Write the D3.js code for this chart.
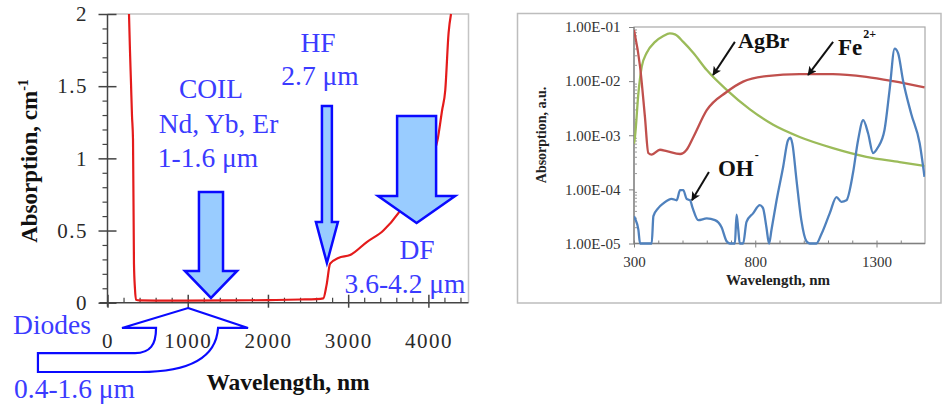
<!DOCTYPE html>
<html><head><meta charset="utf-8">
<script src="https://cdn.jsdelivr.net/npm/d3@7"></script>
<style>
body{margin:0;background:#fff}
svg{display:block}
text{font-family:"Liberation Serif","Times New Roman",serif}
</style>
</head><body>
<svg id="c" width="943" height="404"></svg>
<script>
// ---------- Left chart data ----------
const leftXTicks = [0, 1000, 2000, 3000, 4000];
const leftYTicks = [0, 0.5, 1, 1.5, 2];
const redWl  = [268, 280, 293, 305, 318, 330, 342, 355, 400, 600, 1000, 1500, 2000, 2400, 2600, 2690, 2730, 2775, 2878, 3024, 3232, 3439, 3626, 3800, 4000, 4115, 4170, 4210, 4252, 4282];
const redAbs = [2.0, 1.75, 1.52, 1.3, 1.13, 0.27, 0.1, 0.02, 0.016, 0.015, 0.015, 0.016, 0.018, 0.022, 0.025, 0.03, 0.12, 0.27, 0.31, 0.33, 0.42, 0.50, 0.62, 0.78, 0.97, 1.13, 1.33, 1.47, 1.87, 2.0];

// ---------- Right chart data ----------
const rightXTicks = [300, 800, 1300];
const rightYTicks = [1e-5, 1e-4, 1e-3, 1e-2, 1e-1];
const agbrWl  = [300, 304, 318, 332, 352, 387, 421, 448, 469, 503, 545, 600, 682, 778, 874, 983, 1120, 1258, 1395, 1498];
const agbrAbs = [7e-4, 9.3e-4, 5.9e-3, 0.0185, 0.033, 0.053, 0.068, 0.076, 0.073, 0.053, 0.033, 0.016, 0.0069, 0.003, 0.00156, 9.3e-4, 5.8e-4, 4.0e-4, 3.2e-4, 2.7e-4];
const feWl  = [300, 325, 345, 359, 373, 407, 435, 490, 517, 545, 600, 682, 750, 846, 983, 1120, 1258, 1368, 1498];
const feAbs = [0.088, 0.0185, 2.2e-3, 4.7e-4, 4.4e-4, 5.4e-4, 5.1e-4, 4.5e-4, 5.4e-4, 9.3e-4, 2.9e-3, 6.3e-3, 9.8e-3, 0.0124, 0.0135, 0.0135, 0.012, 0.010, 0.0077];
const ohWl  = [300, 304, 318, 325, 373, 380, 400, 421, 455, 476, 490, 503, 517, 531, 542, 565, 600, 634, 661, 682, 695, 716, 723, 730, 736, 750, 764, 791, 819, 832, 846, 857, 867, 888, 915, 935, 945, 953, 970, 990, 1011, 1025, 1052, 1073, 1107, 1135, 1155, 1176, 1203, 1224, 1245, 1265, 1286, 1306, 1333, 1354, 1375, 1389, 1409, 1443, 1478, 1498];
const ohAbs = [3.2e-5, 2.9e-5, 1.8e-5, 1e-5, 1e-5, 3.2e-5, 4.5e-5, 5.5e-5, 6.7e-5, 6.3e-5, 9.7e-5, 9.7e-5, 6.7e-5, 6.3e-5, 4.5e-5, 2.7e-5, 2.9e-5, 2.7e-5, 2.0e-5, 1.1e-5, 1e-5, 1e-5, 3.4e-5, 1.8e-5, 1e-5, 1e-5, 2.5e-5, 3.6e-5, 5.1e-5, 4.5e-5, 2e-5, 1e-5, 1.8e-5, 6.3e-5, 2.6e-4, 8.1e-4, 9e-4, 7e-4, 1.5e-4, 2.7e-5, 1.1e-5, 1e-5, 1e-5, 1.5e-5, 3.6e-5, 7.2e-5, 5.9e-5, 6.3e-5, 2e-4, 8.1e-4, 1.9e-3, 1.1e-3, 4.7e-4, 6e-4, 1.25e-3, 6.9e-3, 0.04, 0.033, 0.0105, 2.5e-3, 7.1e-4, 1.7e-4];

const svg = d3.select("#c");
svg.append("rect").attr("width", 943).attr("height", 404).attr("fill", "#fff");

// ================= LEFT CHART =================
const xL = d3.scaleLinear().domain([0, 4500]).range([107.5, 468.5]);
const yL = d3.scaleLinear().domain([0, 2]).range([302.7, 14]);
const L = svg.append("g");

L.append("defs").append("clipPath").attr("id", "clipL")
  .append("rect").attr("x", xL(0)).attr("y", yL(2) - 1)
  .attr("width", xL(4500) - xL(0)).attr("height", yL(0) - yL(2) + 2);

// frame (top & right)
L.append("path")
  .attr("d", `M${xL(0)},${yL(2)}H${xL(4500)}V${yL(0)}`)
  .attr("fill", "none").attr("stroke", "#c4c4c4").attr("stroke-width", 1.5);

// axis lines
L.append("line").attr("x1", xL(0) - 8).attr("x2", xL(4500)).attr("y1", yL(0)).attr("y2", yL(0))
  .attr("stroke", "#444").attr("stroke-width", 1.5);
L.append("line").attr("x1", xL(0)).attr("x2", xL(0)).attr("y1", yL(2)).attr("y2", yL(0) + 4)
  .attr("stroke", "#444").attr("stroke-width", 1.5);

// x ticks
const xMinorL = d3.range(200, 4500, 200).filter(v => v % 1000 !== 0);
const gxL = L.append("g").attr("transform", `translate(0,${yL(0)})`)
  .call(d3.axisBottom(xL).tickValues(leftXTicks).tickSizeOuter(0).tickSize(5).tickFormat(d3.format("d")));
gxL.select(".domain").remove();
gxL.selectAll(".tick line").attr("y1", -8).attr("y2", 5).attr("stroke", "#444").attr("stroke-width", 1.5);
gxL.selectAll(".tick text").attr("y", 45.3).attr("dy", 0)
  .attr("font-size", 21).attr("letter-spacing", "1.5px").attr("fill", "#2a2a2a")
  .attr("font-family", "Liberation Serif");
const gxLm = L.append("g").attr("transform", `translate(0,${yL(0)})`)
  .call(d3.axisBottom(xL).tickValues(xMinorL).tickSizeOuter(0).tickSize(-5).tickFormat(""));
gxLm.select(".domain").remove();
gxLm.selectAll(".tick line").attr("stroke", "#444").attr("stroke-width", 1.2);

// y ticks
const yMinorL = d3.range(1, 20).map(i => i / 10).filter(v => Math.abs(v * 2 - Math.round(v * 2)) > 1e-6);
const gyL = L.append("g").attr("transform", `translate(${xL(0)},0)`)
  .call(d3.axisLeft(yL).tickValues(leftYTicks).tickSizeOuter(0).tickSize(9).tickFormat(d3.format("")));
gyL.select(".domain").remove();
gyL.selectAll(".tick line").attr("x1", -9).attr("x2", 9).attr("stroke", "#444").attr("stroke-width", 1.5);
gyL.selectAll(".tick text").attr("x", -19.5)
  .attr("font-size", 21).attr("letter-spacing", "1.5px").attr("fill", "#2a2a2a")
  .attr("font-family", "Liberation Serif");
const gyLm = L.append("g").attr("transform", `translate(${xL(0)},0)`)
  .call(d3.axisLeft(yL).tickValues(yMinorL).tickSizeOuter(0).tickSize(5).tickFormat(""));
gyLm.select(".domain").remove();
gyLm.selectAll(".tick line").attr("stroke", "#444").attr("stroke-width", 1.2);

// titles
L.append("text").attr("x", 288).attr("y", 390).attr("text-anchor", "middle")
  .attr("font-size", 23.5).attr("font-weight", "bold").attr("fill", "#111")
  .text("Wavelength, nm");
const ytL = L.append("text").attr("transform", "translate(37,161) rotate(-90)")
  .attr("text-anchor", "middle").attr("font-size", 23).attr("font-weight", "bold").attr("fill", "#111");
ytL.append("tspan").text("Absorption, cm");
ytL.append("tspan").attr("dy", -9).attr("font-size", 14).text("-1");

// red curve
const redData = redWl.map((w, i) => ({ w, a: redAbs[i] }));
L.append("path").datum(redData)
  .attr("clip-path", "url(#clipL)")
  .attr("d", d3.line().x(d => xL(d.w)).y(d => yL(d.a)).curve(d3.curveMonotoneX))
  .attr("fill", "none").attr("stroke", "#e41b1b").attr("stroke-width", 2.2);

// block arrows (data units)
const blockArrows = [
  { cx: 1290, sh: 150, hh: 325, top: 0.767, head: 0.22, tip: 0.033 },
  { cx: 2735, sh: 62, hh: 137, top: 1.363, head: 0.559, tip: 0.275 },
  { cx: 3853, sh: 243, hh: 480, top: 1.294, head: 0.739, tip: 0.552 }
];
blockArrows.forEach(b => {
  const pts = [[b.cx - b.sh, b.top], [b.cx + b.sh, b.top], [b.cx + b.sh, b.head], [b.cx + b.hh, b.head],
               [b.cx, b.tip], [b.cx - b.hh, b.head], [b.cx - b.sh, b.head]];
  L.append("polygon").attr("points", pts.map(p => [xL(p[0]), yL(p[1])].join(",")).join(" "))
    .attr("fill", "#99ccff").attr("stroke", "#0a0aff").attr("stroke-width", 2.5).attr("stroke-linejoin", "miter");
});

// Diodes curved outline arrow (data units)
const P = (w, a) => `${xL(w)},${yL(a)}`;
L.append("path")
  .attr("d", `M${P(1004,-0.037)}L${P(1752,-0.175)}L${P(1378,-0.175)}` +
    `C${P(1353,-0.383)} ${P(1029,-0.48)} ${P(405,-0.48)}` +
    `L${P(-867,-0.48)}L${P(-867,-0.349)}L${P(343,-0.349)}` +
    `C${P(530,-0.349)} ${P(605,-0.293)} ${P(605,-0.175)}` +
    `L${P(181,-0.175)}Z`)
  .attr("fill", "none").attr("stroke", "#0a0aff").attr("stroke-width", 2.2).attr("stroke-linejoin", "miter");

// blue labels
const blueLabels = [
  { t: "COIL", x: 211, y: 98.3 },
  { t: "Nd, Yb, Er", x: 218.5, y: 133 },
  { t: "1-1.6 \u03bcm", x: 208, y: 167 },
  { t: "HF", x: 318, y: 52 },
  { t: "2.7 \u03bcm", x: 320, y: 85 },
  { t: "DF", x: 417, y: 259 },
  { t: "3.6-4.2 \u03bcm", x: 405, y: 293 },
  { t: "Diodes", x: 52, y: 334 },
  { t: "0.4-1.6 \u03bcm", x: 74.5, y: 398 }
];
blueLabels.forEach(l => {
  L.append("text").attr("x", l.x).attr("y", l.y).attr("text-anchor", "middle")
    .attr("font-size", 27.5).attr("fill", "#3b3bff").text(l.t);
});

// ================= RIGHT CHART =================
const xR = d3.scaleLinear().domain([300, 1500]).range([634, 925]);
const yR = d3.scaleLog().domain([1e-5, 1e-1]).range([243.5, 27]);
const R = svg.append("g");

R.append("rect").attr("x", 517.5).attr("y", 13.5).attr("width", 423.5).attr("height", 289.5)
  .attr("fill", "none").attr("stroke", "#bdbdbd").attr("stroke-width", 1.5);

R.append("defs").append("clipPath").attr("id", "clipR")
  .append("rect").attr("x", xR(300)).attr("y", yR(1e-1) - 2)
  .attr("width", xR(1500) - xR(300)).attr("height", yR(1e-5) - yR(1e-1) + 4);

R.append("rect").attr("x", xR(300)).attr("y", yR(1e-1))
  .attr("width", xR(1500) - xR(300)).attr("height", yR(1e-5) - yR(1e-1))
  .attr("fill", "none").attr("stroke", "#a8a8a8").attr("stroke-width", 1.2);
R.append("path").attr("d", `M${xR(300)},${yR(1e-1)}V${yR(1e-5)}H${xR(1500)}`)
  .attr("fill", "none").attr("stroke", "#808080").attr("stroke-width", 1.3);

// y ticks
const fmtE = d => "1.00E-0" + Math.round(-Math.log10(d));
const gyR = R.append("g").attr("transform", `translate(${xR(300)},0)`)
  .call(d3.axisLeft(yR).tickValues(rightYTicks).tickSizeOuter(0).tickSize(5).tickFormat(fmtE));
gyR.select(".domain").remove();
gyR.selectAll(".tick line").attr("stroke", "#808080");
gyR.selectAll(".tick text").attr("x", -13.5).attr("font-size", 15).attr("fill", "#333")
  .attr("font-family", "Liberation Serif");
const yMinorR = [];
rightYTicks.slice(0, -1).forEach(d => { for (let k = 2; k <= 9; k++) yMinorR.push(d * k); });
const gyRm = R.append("g").attr("transform", `translate(${xR(300)},0)`)
  .call(d3.axisLeft(yR).tickValues(yMinorR).tickSizeOuter(0).tickSize(-3).tickFormat(""));
gyRm.select(".domain").remove();
gyRm.selectAll(".tick line").attr("stroke", "#9a9a9a");

// x ticks
const xMinorR = d3.range(400, 1500, 100).filter(v => !rightXTicks.includes(v));
const gxR = R.append("g").attr("transform", `translate(0,${yR(1e-5)})`)
  .call(d3.axisBottom(xR).tickValues(rightXTicks).tickSizeOuter(0).tickSize(3).tickFormat(d3.format("d")));
gxR.select(".domain").remove();
gxR.selectAll(".tick line").attr("y1", -3).attr("y2", 4).attr("stroke", "#808080");
gxR.selectAll(".tick text").attr("y", 23.2).attr("dy", 0).attr("font-size", 15).attr("fill", "#333")
  .attr("font-family", "Liberation Serif");
const gxRm = R.append("g").attr("transform", `translate(0,${yR(1e-5)})`)
  .call(d3.axisBottom(xR).tickValues(xMinorR).tickSizeOuter(0).tickSize(-3).tickFormat(""));
gxRm.select(".domain").remove();
gxRm.selectAll(".tick line").attr("stroke", "#808080");

// titles
R.append("text").attr("x", 778).attr("y", 285).attr("text-anchor", "middle")
  .attr("font-size", 15).attr("font-weight", "bold").attr("fill", "#222").text("Wavelength, nm");
R.append("text").attr("transform", "translate(546,135) rotate(-90)").attr("text-anchor", "middle")
  .attr("font-size", 14).attr("font-weight", "bold").attr("fill", "#222").text("Absorption, a.u.");

// series
const series = [
  { wl: agbrWl, ab: agbrAbs, color: "#9bbb59" },
  { wl: feWl, ab: feAbs, color: "#c0504d" },
  { wl: ohWl, ab: ohAbs, color: "#4f81bd" }
];
const lineR = d3.line().x(d => xR(d[0])).y(d => yR(Math.max(1e-5, d[1]))).curve(d3.curveMonotoneX);
series.forEach(s => {
  R.append("path").datum(s.wl.map((w, i) => [w, s.ab[i]]))
    .attr("clip-path", "url(#clipR)")
    .attr("d", lineR).attr("fill", "none").attr("stroke", s.color).attr("stroke-width", 2.3)
    .attr("stroke-linejoin", "round");
});

// arrow marker
svg.append("defs").append("marker").attr("id", "ah")
  .attr("viewBox", "0 0 10 10").attr("refX", 9).attr("refY", 5)
  .attr("markerWidth", 4.5).attr("markerHeight", 4.5).attr("orient", "auto")
  .attr("markerUnits", "strokeWidth")
  .append("path").attr("d", "M0,0L10,5L0,10L2.5,5Z").attr("fill", "#111");

const rightNotes = [
  { t: "AgBr", sup: "", x: 729, y: 0.041, fs: 22, ax1: 716, ay1: 0.053, ax2: 626, ay2: 0.013 },
  { t: "Fe", sup: "2+", x: 1141, y: 0.030, fs: 23, ax1: 1121, ay1: 0.053, ax2: 1018, ay2: 0.013 },
  { t: "OH", sup: "-", x: 646, y: 1.8e-4, fs: 23, ax1: 609, ay1: 2.1e-4, ax2: 539, ay2: 6.3e-5 }
];
rightNotes.forEach(n => {
  const tx = R.append("text").attr("x", xR(n.x)).attr("y", yR(n.y))
    .attr("font-size", n.fs).attr("font-weight", "bold").attr("fill", "#111");
  tx.append("tspan").text(n.t);
  if (n.sup) tx.append("tspan").attr("dy", -17).attr("dx", 1).attr("font-size", 12).text(n.sup);
  R.append("line").attr("x1", xR(n.ax1)).attr("y1", yR(n.ay1)).attr("x2", xR(n.ax2)).attr("y2", yR(n.ay2))
    .attr("stroke", "#111").attr("stroke-width", 2).attr("marker-end", "url(#ah)");
});
</script>
</body></html>
